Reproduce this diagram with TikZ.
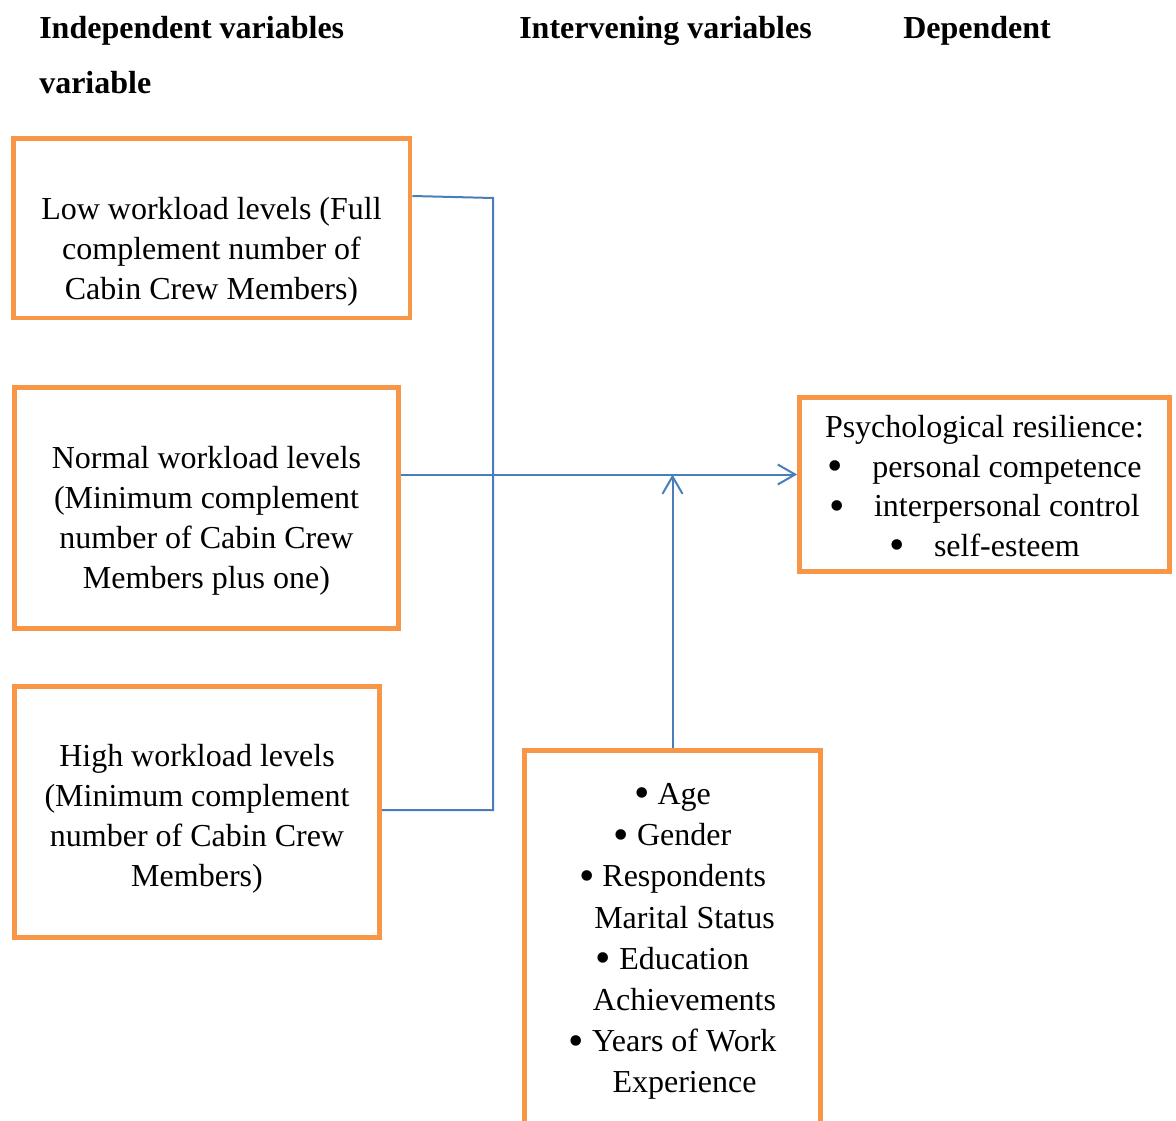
\documentclass[tikz,border=0pt]{standalone}
\usepackage{fontspec}
\setmainfont{Liberation Serif}
\usetikzlibrary{arrows.meta}
\definecolor{boxorange}{HTML}{F79646}
\definecolor{linkblue}{HTML}{4A7EBB}
\newcommand\bul{\raisebox{-2.5pt}{\fontsize{33}{30}\selectfont\textbullet}}

\begin{document}
\begin{tikzpicture}[x=0.75pt, y=-0.75pt,
  every node/.style={font=\fontsize{24}{30}\selectfont},
  varbox/.style={draw=boxorange, line width=3.6pt, inner sep=0pt},
  boxtext/.style={align=center, inner sep=0pt},
  head/.style={anchor=base west, inner sep=0pt, font=\fontsize{24}{30}\selectfont\bfseries},
  link/.style={linkblue, line width=1.5pt},
  >={Straight Barb[length=13pt, width=15pt, line width=1.5pt]}]
\useasboundingbox (0,0) rectangle (1176,1120);
% headings
\node[head] (hind) at (39,39) {Independent variables};
\node[head] (hindb) at (39,94) {variable};
\node[head] (hint) at (519,39) {Intervening variables};
\node[head] (hdep) at (903,39) {Dependent};
% boxes
\node[varbox, minimum width=297.4pt, minimum height=134.6pt] (low) at (211.75,228.25) {};
\node[varbox, minimum width=288pt, minimum height=180.75pt] (normal) at (206.5,508) {};
\node[varbox, minimum width=273.75pt, minimum height=188.25pt] (high) at (197,812) {};
\node[varbox, minimum width=222pt, minimum height=288.4pt] (factors) at (672.5,942.75) {};
\node[varbox, minimum width=277.5pt, minimum height=130.5pt] (result) at (984.5,484.5) {};
% box texts
\node[boxtext] (lowtxt) at (211.5,252) {Low workload levels (Full\\complement number of\\Cabin Crew Members)};
\node[boxtext] (normaltxt) at (206.5,520.5) {Normal workload levels\\(Minimum complement\\number of Cabin Crew\\Members plus one)};
\node[boxtext] (hightxt) at (197,818.5) {High workload levels\\(Minimum complement\\number of Cabin Crew\\Members)};
\node[boxtext, font=\fontsize{24}{30.9}\selectfont] (factorstxt) at (672.5,941.5) {\bul{} Age\\\bul{} Gender\\\bul{} Respondents\\\hspace*{18pt}Marital Status\\\bul{} Education\\\hspace*{18pt}Achievements\\\bul{} Years of Work\\\hspace*{18pt}Experience};
\node[boxtext, font=\fontsize{24}{29.75}\selectfont] (resulttxt) at (984.5,487.5) {Psychological resilience:\\\bul\hspace{22pt}personal competence\\\bul\hspace{22pt}interpersonal control\\\bul\hspace{22pt}self-esteem};
% connectors
\coordinate (jtop) at (493,198);
\coordinate (jbot) at (493,810);
\coordinate (jmid) at (493,474.5);
\draw[link] (low.east |- 0,196) -- (jtop) -- (jbot) -- (high.east |- jbot);
\draw[link] (normal.east |- jmid) -- (jmid);
\draw[link, ->] (jmid) -- (result.west |- jmid);
\draw[link, ->] (factors.north) -- (factors.north |- jmid);
\end{tikzpicture}
\end{document}
